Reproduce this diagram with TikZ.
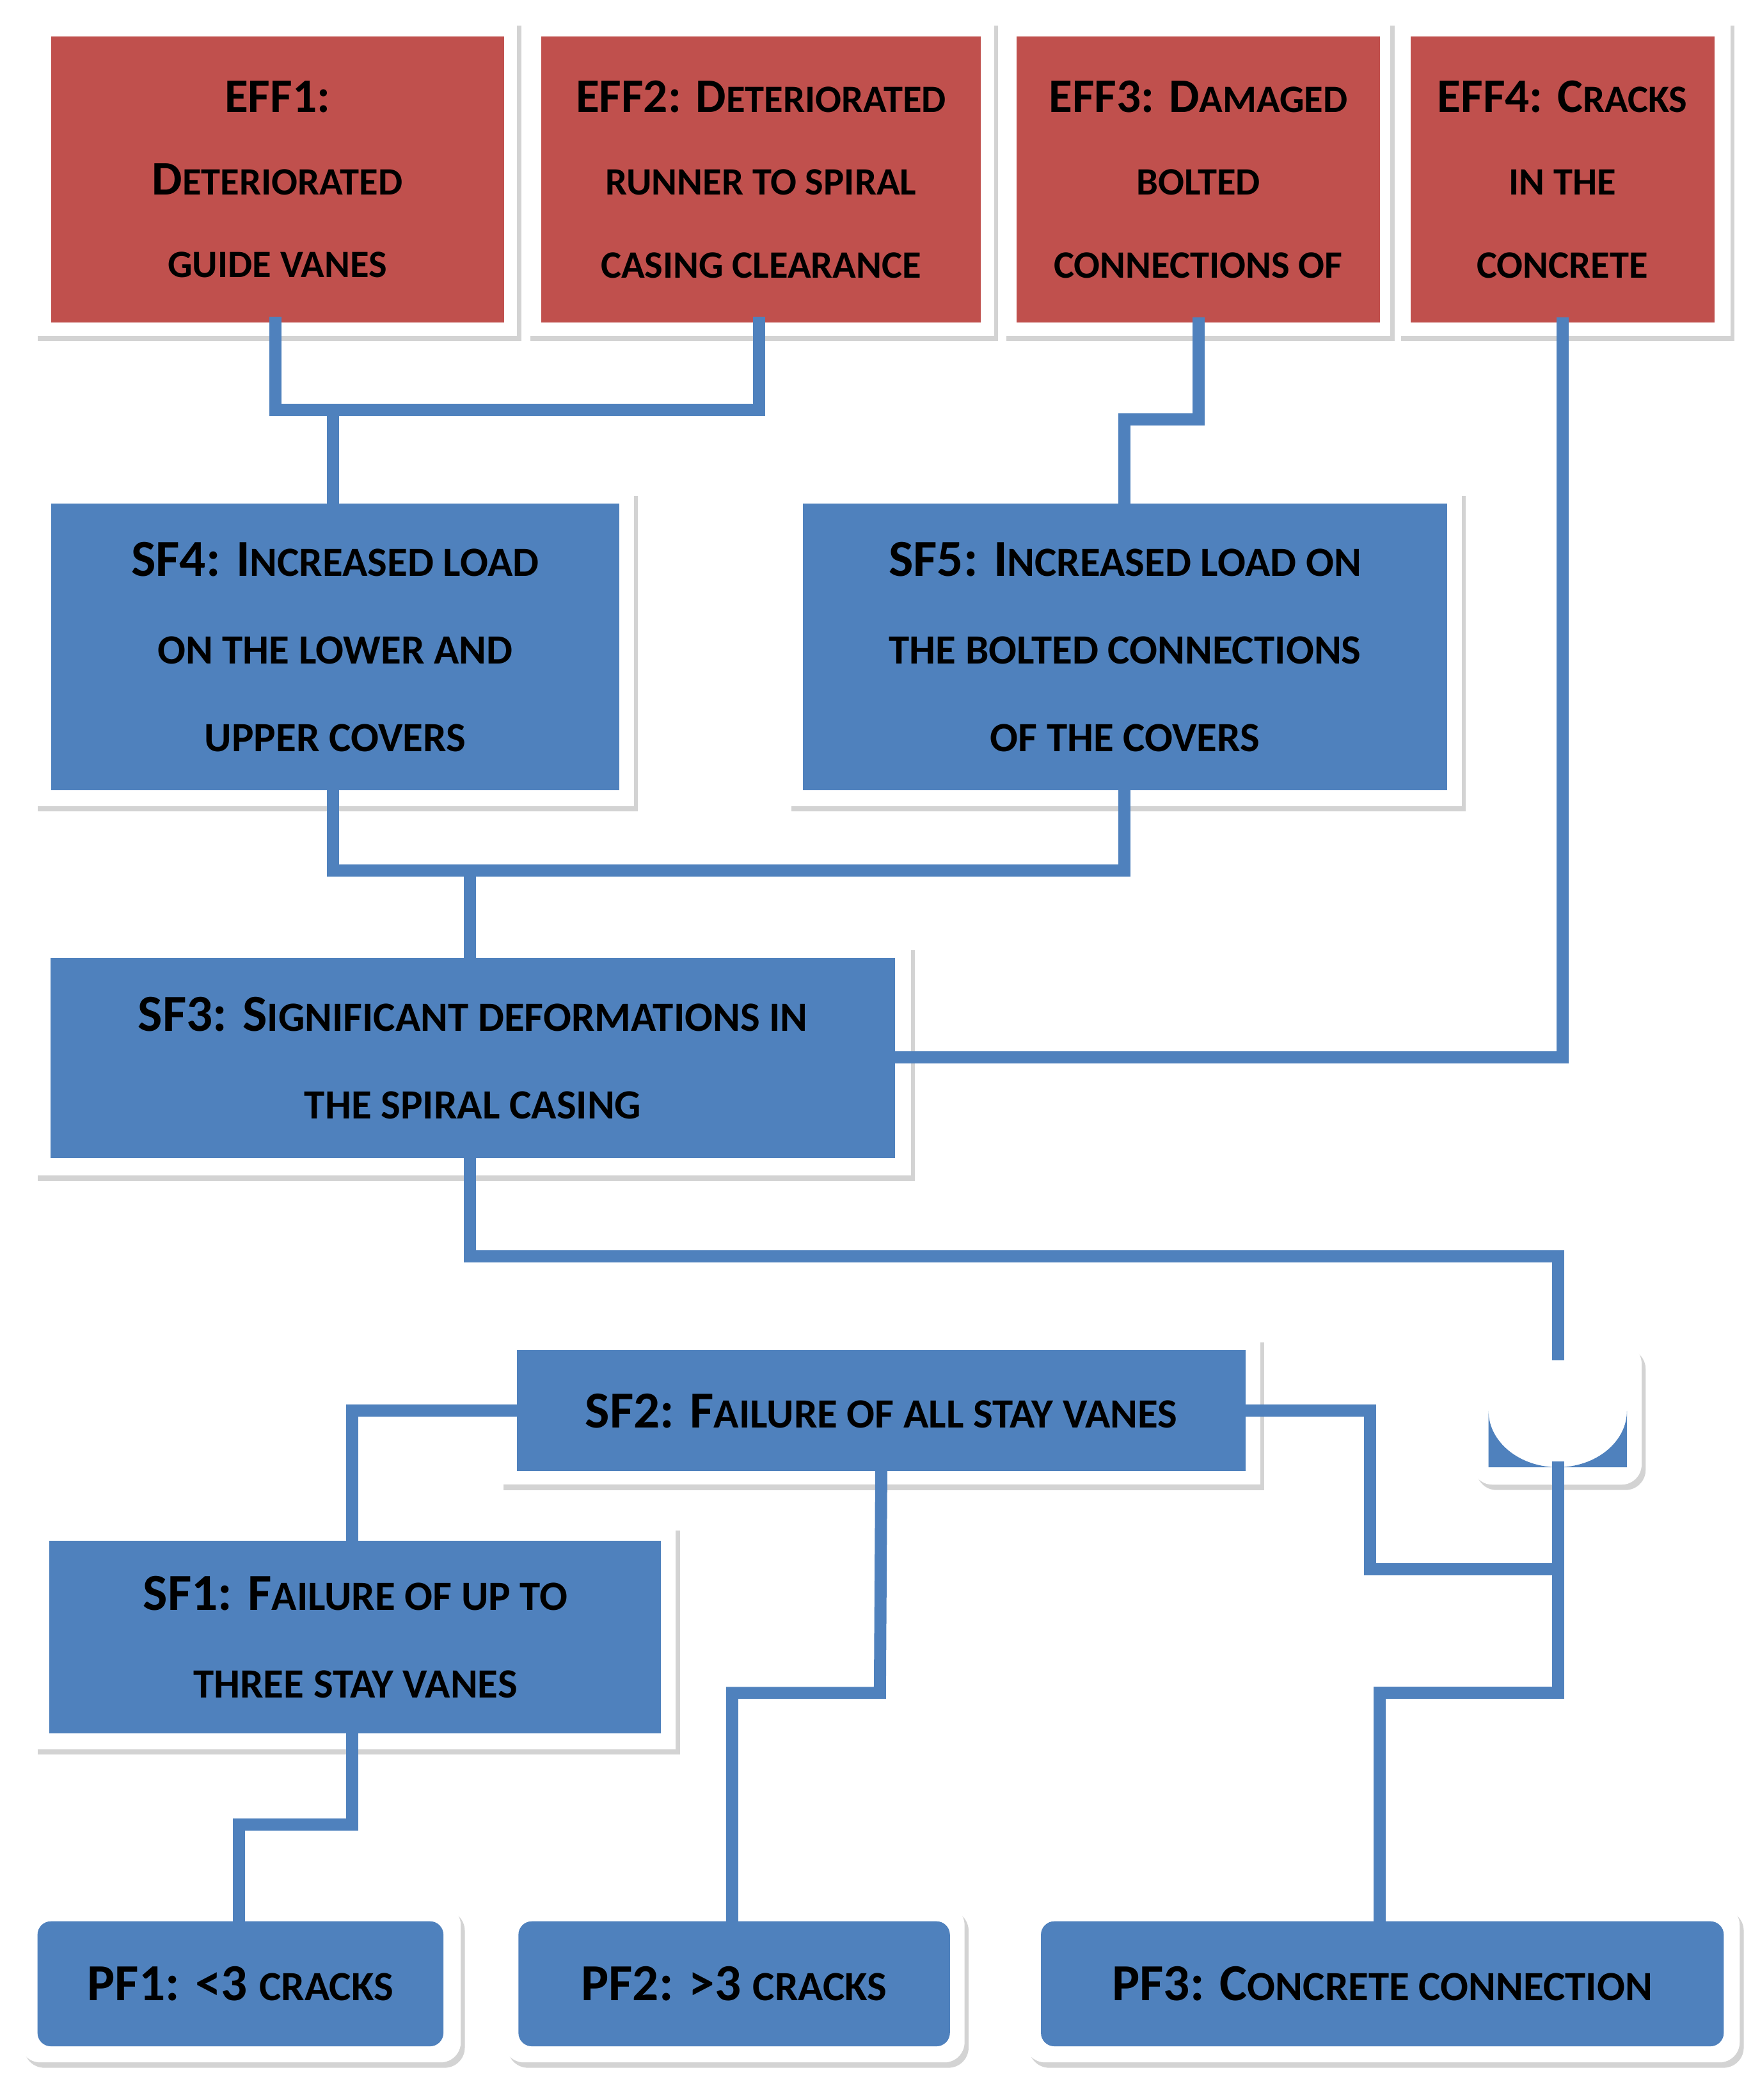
\documentclass[tikz,border=0pt]{standalone}
\usepackage{fontspec}
\setmainfont{Carlito}
\usetikzlibrary{shadows,calc}
\definecolor{rd}{HTML}{C0504D}
\definecolor{bl}{HTML}{4F81BD}
\newcommand{\s}[1]{{\fontsize{8.8}{18.5}\selectfont #1}}
\newcommand{\se}[1]{{\fontsize{8.2}{17.5}\selectfont #1}}
\begin{document}
\begin{tikzpicture}[x=0.01cm,y=-0.01cm,
 frame/.style={fill=white,draw=none,drop shadow={opacity=0.35,shadow xshift=0.03cm,shadow yshift=-0.04cm}},
 box/.style={draw=none,text=black,font=\bfseries\fontsize{11}{18.5}\selectfont,align=center,inner sep=0pt},
 effbox/.style={box,fill=rd,font=\bfseries\fontsize{10.2}{17.5}\selectfont},
 bbox/.style={box,fill=bl},
 con/.style={draw=bl,line width=0.09cm,line cap=rect}]
\useasboundingbox (0,0) rectangle (1310,1563);
% frames
\foreach \a/\b/\c/\d in {25/15/385/250, 392/15/740/250, 746/15/1035/250, 1040/15/1288/250,
  25/365/472/600, 586/365/1088/600, 25/703/678/875, 372/995/938/1105, 25/1135/503/1302}
  \fill[frame] (\a,\b) rectangle (\c,\d);
\foreach \a/\b/\c/\d in {15/1418/343/1535, 375/1418/718/1535, 763/1418/1295/1535, 1096/1000/1222/1105}
  \fill[frame,rounded corners=0.15cm] (\a,\b) rectangle (\c,\d);
% nodes
\node[effbox,minimum width=3.37cm,minimum height=2.13cm] (eff1) at (206.5,133.5) {EFF1:\\D\se{ETERIORATED}\\\se{GUIDE VANES}};
\node[effbox,minimum width=3.27cm,minimum height=2.13cm] (eff2) at (566.5,133.5) {EFF2: D\se{ETERIORATED}\\\se{RUNNER TO SPIRAL}\\\se{CASING CLEARANCE}};
\node[effbox,minimum width=2.70cm,minimum height=2.13cm] (eff3) at (892,133.5) {EFF3: D\se{AMAGED}\\\se{BOLTED}\\\se{CONNECTIONS OF}};
\node[effbox,minimum width=2.26cm,minimum height=2.13cm] (eff4) at (1163,133.5) {EFF4: C\se{RACKS}\\\se{IN THE}\\\se{CONCRETE}};
\node[bbox,minimum width=4.23cm,minimum height=2.13cm] (sf4) at (249.5,481.5) {SF4: I\s{NCREASED LOAD}\\\s{ON THE LOWER AND}\\\s{UPPER COVERS}};
\node[bbox,minimum width=4.79cm,minimum height=2.13cm] (sf5) at (837.5,481.5) {SF5: I\s{NCREASED LOAD ON}\\\s{THE BOLTED CONNECTIONS}\\\s{OF THE COVERS}};
\node[bbox,minimum width=6.28cm,minimum height=1.49cm] (sf3) at (352,787.5) {SF3: S\s{IGNIFICANT DEFORMATIONS IN}\\\s{THE SPIRAL CASING}};
\node[bbox,minimum width=5.42cm,minimum height=0.90cm] (sf2) at (656,1050) {SF2: F\s{AILURE OF ALL STAY VANES}};
\node[bbox,minimum width=4.55cm,minimum height=1.43cm] (sf1) at (264.5,1218.5) {SF1: F\s{AILURE OF UP TO}\\\s{THREE STAY VANES}};
\node[bbox,rounded corners=0.1cm,minimum width=3.02cm,minimum height=0.93cm] (pf1) at (179,1476.5) {PF1: <3 \s{CRACKS}};
\node[bbox,rounded corners=0.1cm,minimum width=3.21cm,minimum height=0.93cm] (pf2) at (546.5,1476.5) {PF2: >3 \s{CRACKS}};
\node[bbox,rounded corners=0.1cm,minimum width=5.08cm,minimum height=0.93cm] (pf3) at (1029,1476.5) {PF3: C\s{ONCRETE CONNECTION}};
% and gate
\fill[bl] (1108,1092) -- (1108,1050) arc[start angle=180,end angle=0,x radius=0.515cm,y radius=-0.42cm] -- (1211,1092) -- cycle;
\coordinate (gtop) at (1160,1008);
\coordinate (gbot) at (1160,1092);
% junction coordinates
\coordinate (j1) at (205,305); \coordinate (j1b) at (248,305);
\coordinate (j2) at (892,312);
\coordinate (j3) at (248,648); \coordinate (j3b) at (350,648);
\coordinate (j4) at (350,935);
\coordinate (j5) at (1020,1168);
\coordinate (j6) at (1160,1260);
\coordinate (j7) at (655,1260);
\coordinate (j8) at (262,1358);
% connectors
\draw[con] (205,240) |- (565,305) -- (565,240);
\draw[con] (j1b) -- (248,375);
\draw[con] (eff3.south) |- (837,312) -- (837,375);
\draw[con] (eff4.south) |- (sf3.east |- 0,787);
\draw[con] (248,588) |- (837,648) -- (837,588);
\draw[con] (j3b) -- (sf3.north -| j3b);
\draw[con] (350,862) |- (1160,935) -- (gtop);
\draw[con] (sf2.west) -| (262,1147);
\draw[con] (sf2.east) -| (j5) -- (1160,1168);
\draw[con] (gbot) -- (j6) -| (1027,1430);
\draw[con] (sf2.south) -- (j7) -| (545,1430);
\draw[con] (262,1290) -- (j8) -| (178,1430);
\end{tikzpicture}
\end{document}
